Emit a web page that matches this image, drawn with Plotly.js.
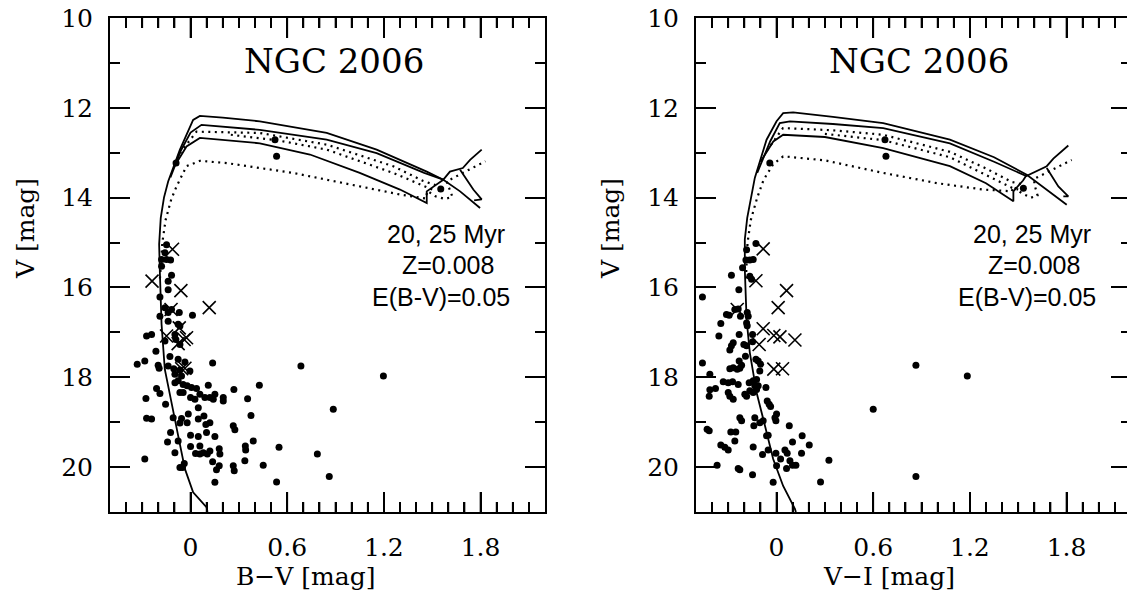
<!DOCTYPE html>
<html>
<head>
<meta charset="utf-8">
<script src="https://cdn.plot.ly/plotly-3.0.1.min.js"></script>
<style>
html,body{margin:0;padding:0;overflow:hidden;background:#fff;}
#chart{width:1132px;height:598px;}
</style>
</head>
<body>
<div id="chart"></div>
<script>
// ---------------- DATA: left panel (B-V) ----------------
const bvDotsX = [-0.149,-0.159,-0.180,-0.149,-0.124,-0.180,-0.118,-0.139,-0.139,-0.190,-0.159,-0.118,-0.139,-0.190,-0.070,0.012,-0.139,-0.077,-0.066,-0.273,-0.242,-0.097,-0.091,-0.066,-0.159,-0.215,-0.128,-0.331,-0.284,-0.201,-0.195,-0.139,-0.077,-0.035,-0.104,-0.066,-0.004,-0.097,-0.056,-0.077,0.137,0.685,1.197,-0.097,-0.046,-0.021,0.006,0.037,-0.046,-0.066,-0.211,-0.190,-0.277,0.000,0.027,0.058,0.089,0.120,0.151,0.141,0.203,0.203,0.110,0.269,0.427,0.354,0.048,-0.155,-0.273,-0.242,-0.108,-0.056,-0.066,-0.014,-0.021,0.048,0.083,0.095,0.120,0.265,0.275,0.375,0.886,-0.124,-0.143,-0.077,0.000,0.048,0.099,0.151,0.000,0.058,0.031,0.058,0.079,0.104,0.120,0.178,0.182,-0.097,0.340,0.342,0.389,0.549,0.787,-0.284,-0.066,-0.050,-0.039,0.137,0.178,0.161,0.265,0.271,0.337,0.451,0.151,0.534,0.861,0.524,0.534,-0.090,1.553];
const bvDotsV = [15.05,15.23,15.38,15.38,15.39,15.53,15.73,15.86,16.05,16.21,16.45,16.49,16.56,16.64,16.56,16.62,16.75,16.82,16.86,17.08,17.05,17.05,17.16,17.27,17.19,17.42,17.54,17.71,17.64,17.73,17.80,17.75,17.60,17.66,17.81,17.84,17.86,17.93,17.97,18.08,17.68,17.75,17.97,18.12,18.16,18.19,18.23,18.25,18.34,18.34,18.25,18.36,18.47,18.45,18.49,18.38,18.45,18.45,18.38,18.49,18.45,18.53,18.18,18.27,18.18,18.48,18.68,18.60,18.91,18.93,18.90,18.92,19.02,18.82,19.01,18.93,18.86,19.05,19.01,19.08,19.17,18.85,18.71,19.23,19.44,19.42,19.29,19.32,19.23,19.32,19.54,19.53,19.70,19.71,19.68,19.71,19.64,19.59,19.71,19.68,19.53,19.62,19.42,19.56,19.71,19.82,20.01,20.01,19.92,19.88,19.97,20.06,19.97,20.08,19.86,19.96,20.34,20.33,20.21,12.71,13.08,13.23,13.81];
const bvCrossX = [-0.112,-0.239,-0.060,0.116,-0.121,-0.070,-0.149,-0.025,-0.077,-0.040,-0.055,-0.035];
const bvCrossV = [15.15,15.86,16.07,16.45,16.49,16.90,17.08,17.12,17.25,17.16,17.81,17.80];

const bvIsoMsX = [0.105,0.100,0.016,-0.035,-0.077,-0.108,-0.139,-0.160,-0.180,-0.190,-0.195,-0.185,-0.165,-0.139,-0.066,0.016,0.058,0.200,0.430,0.845,1.155,1.466,1.569,1.673,1.797];
const bvIsoMsV = [21.0,20.90,20.56,20.04,19.30,18.78,18.19,17.82,16.82,15.71,15.04,14.45,14.00,13.64,12.93,12.27,12.18,12.22,12.30,12.56,12.93,13.42,13.60,13.86,14.23];
const bvIsoS2X = [-0.125,-0.060,0.000,0.068,0.430,0.845,1.155,1.450,1.569,1.610,1.690,1.735,1.807];
const bvIsoS2V = [13.55,12.95,12.55,12.38,12.49,12.71,13.01,13.45,13.60,13.42,13.34,13.16,12.93];
const bvIsoS3X = [-0.100,-0.025,0.058,0.430,0.741,1.050,1.300,1.466,1.466,1.538,1.569];
const bvIsoS3V = [13.30,12.86,12.67,12.79,13.04,13.45,13.82,14.12,13.86,13.67,13.60];
const bvIsoHookX = [1.673,1.755,1.807,1.760];
const bvIsoHookV = [13.38,13.82,14.04,14.06];
const bvIsoD1X = [-0.066,0.037,0.430,0.845,1.258,1.445,1.520];
const bvIsoD1V = [13.01,12.53,12.56,12.82,13.30,13.63,13.72];
const bvIsoD2X = [0.250,0.550,0.845,1.258,1.455,1.500];
const bvIsoD2V = [12.60,12.73,12.93,13.45,13.75,13.82];
const bvIsoD3X = [-0.190,-0.175,-0.155,-0.120,-0.087,-0.025,0.058,0.224,0.637,1.050,1.300,1.460,1.470,1.520,1.580,1.625,1.600,1.590,1.700,1.830];
const bvIsoD3V = [15.80,15.00,14.50,14.04,13.75,13.30,13.18,13.23,13.45,13.75,13.93,14.02,13.85,13.97,14.03,13.98,13.75,13.64,13.43,13.19];

// ---------------- DATA: right panel (V-I) ----------------
const viDotsX = [-0.128,-0.186,-0.190,-0.166,-0.145,-0.211,-0.280,-0.166,-0.155,-0.460,-0.234,-0.259,-0.238,-0.311,-0.294,-0.224,-0.182,-0.176,-0.186,-0.182,-0.346,-0.358,-0.232,-0.149,-0.269,-0.280,-0.203,-0.186,-0.290,-0.149,-0.193,-0.128,-0.114,-0.099,-0.460,-0.232,-0.217,-0.244,-0.228,-0.290,-0.269,-0.104,-0.414,-0.331,-0.300,-0.273,-0.238,-0.170,-0.145,-0.124,-0.414,-0.418,-0.379,-0.300,-0.290,-0.269,-0.197,-0.186,-0.166,-0.145,-0.124,-0.135,-0.114,-0.066,-0.058,-0.046,-0.037,-0.431,-0.418,-0.228,-0.217,-0.135,-0.104,-0.083,-0.141,-0.010,0.000,-0.004,0.079,-0.284,-0.253,-0.259,-0.062,-0.052,-0.346,-0.321,-0.300,-0.145,-0.087,-0.052,-0.004,0.025,0.052,0.066,0.083,0.099,0.120,0.062,0.099,0.159,0.203,0.155,0.000,0.325,-0.369,-0.238,-0.228,-0.149,-0.021,0.273,0.865,1.184,0.600,0.865,0.673,0.679,-0.042,1.532];
const viDotsV = [15.02,15.16,15.39,15.39,15.38,15.56,15.73,15.75,15.82,16.21,16.05,16.49,16.48,16.60,16.62,16.64,16.56,16.64,16.79,16.85,16.80,17.08,17.05,17.05,17.23,17.30,17.27,17.30,17.39,17.21,17.53,17.60,17.64,17.71,17.68,17.64,17.73,17.82,17.80,17.81,17.79,17.86,17.93,18.10,18.12,18.10,18.16,18.12,18.08,18.05,18.28,18.42,18.25,18.34,18.42,18.49,18.38,18.42,18.30,18.34,18.27,18.19,18.19,18.23,18.53,18.60,18.65,19.16,19.19,18.90,18.97,18.90,19.01,18.97,19.08,18.90,18.82,18.97,19.08,19.22,19.22,19.42,19.30,19.29,19.51,19.56,19.62,19.55,19.72,19.62,19.69,19.82,19.62,19.69,19.86,19.96,19.96,20.03,19.44,19.30,19.51,19.69,19.97,19.85,19.96,20.03,20.06,20.17,20.34,20.33,17.73,17.97,18.71,20.21,12.71,13.08,13.23,13.79];
const viCrossX = [-0.083,-0.128,0.062,0.010,-0.244,-0.083,-0.017,0.021,0.114,-0.108,-0.017,0.037];
const viCrossV = [15.14,15.85,16.07,16.45,16.49,16.92,17.07,17.10,17.17,17.27,17.82,17.81];

const viIsoMsX = [0.120,0.114,0.041,-0.021,-0.072,-0.124,-0.166,-0.186,-0.197,-0.197,-0.182,-0.160,-0.135,-0.062,0.000,0.041,0.103,0.350,0.662,1.076,1.350,1.553,1.801];
const viIsoMsV = [21.0,20.93,20.42,19.82,19.08,18.34,17.45,16.71,15.60,14.93,14.45,14.00,13.56,12.71,12.30,12.12,12.10,12.20,12.34,12.71,13.10,13.49,14.16];
const viIsoS2X = [-0.120,-0.040,0.020,0.083,0.350,0.662,1.076,1.350,1.550,1.604,1.677,1.718,1.811];
const viIsoS2V = [13.45,12.75,12.34,12.30,12.36,12.45,12.79,13.20,13.52,13.42,13.30,13.13,12.84];
const viIsoS3X = [-0.100,-0.020,0.041,0.300,0.662,1.076,1.300,1.470,1.470,1.530,1.553];
const viIsoS3V = [13.20,12.75,12.60,12.65,12.90,13.30,13.68,14.08,13.86,13.62,13.49];
const viIsoHookX = [1.677,1.749,1.811,1.780];
const viIsoHookV = [13.34,13.75,13.97,13.97];
const viIsoD1X = [-0.060,0.040,0.350,0.662,1.076,1.300,1.460,1.520];
const viIsoD1V = [12.95,12.45,12.50,12.60,12.98,13.35,13.65,13.70];
const viIsoD2X = [0.300,0.662,1.076,1.300,1.460,1.500];
const viIsoD2V = [12.58,12.72,13.10,13.50,13.78,13.82];
const viIsoD3X = [-0.190,-0.180,-0.160,-0.120,-0.080,-0.020,0.041,0.300,0.662,1.000,1.283,1.460,1.470,1.520,1.580,1.620,1.600,1.600,1.700,1.832];
const viIsoD3V = [15.80,15.00,14.50,14.00,13.60,13.25,13.08,13.17,13.45,13.68,13.82,13.86,13.75,13.90,14.00,13.95,13.70,13.58,13.40,13.16];

// ---------------- AXES / TEXT ----------------
const colorRange = [-0.5, 2.2];
const magRange = [21, 10];
const colorMajorStep = 0.6, colorMinorStep = 0.1;
const clusterName = 'NGC 2006';
const modelLines = ['20, 25 Myr', 'Z=0.008', 'E(B-V)=0.05'];
const xTitles = ['B\u2212V [mag]', 'V\u2212I [mag]'];
const yTitle = 'V [mag]';

// ---------------- FIGURE ----------------
const W = 1132, H = 598;
const px = x => x / W;
const py = y => 1 - y / H;
const serif = 'DejaVu Serif, serif';
const sans = 'Liberation Sans, Arial, sans-serif';

function lineTrace(x, y, ax, dotted) {
  return {x: x, y: y, xaxis: ax[0], yaxis: ax[1], mode: 'lines', hoverinfo: 'skip',
    line: {color: 'black', width: dotted ? 2.2 : 1.8, dash: dotted ? '2px,4.5px' : 'solid'}};
}
function dotTrace(x, y, ax) {
  return {x: x, y: y, xaxis: ax[0], yaxis: ax[1], mode: 'markers', marker: {size: 7, color: 'black'}};
}
function crossTrace(x, y, ax) {
  return {x: x, y: y, xaxis: ax[0], yaxis: ax[1], mode: 'markers',
    marker: {symbol: 'x-thin-open', size: 13, color: 'black', line: {width: 1.6, color: 'black'}}};
}
// frame tick marks of the colour axis (top and bottom), as one line trace per panel
const magPerPx = (magRange[0] - magRange[1]) / (512 - 18);
function colorTickTrace(ax) {
  const xs = [], ys = [];
  const kMin = Math.ceil(colorRange[0] / colorMinorStep + 1e-6), kMax = Math.floor(colorRange[1] / colorMinorStep - 1e-6);
  for (let k = kMin; k <= kMax; k++) {
    const v = k * colorMinorStep;
    const len = (k % Math.round(colorMajorStep / colorMinorStep) === 0 ? 20 : 10) * magPerPx;
    xs.push(v, v, null, v, v, null);
    ys.push(magRange[0], magRange[0] - len, null, magRange[1], magRange[1] + len, null);
  }
  return {x: xs, y: ys, xaxis: ax[0], yaxis: ax[1], mode: 'lines', hoverinfo: 'skip', connectgaps: false,
    line: {color: 'black', width: 1.8}};
}
const A1 = ['x', 'y'], A2 = ['x2', 'y2'];
const traces = [
  colorTickTrace(A1), colorTickTrace(A2),
  lineTrace(bvIsoMsX, bvIsoMsV, A1), lineTrace(bvIsoS2X, bvIsoS2V, A1), lineTrace(bvIsoS3X, bvIsoS3V, A1),
  lineTrace(bvIsoHookX, bvIsoHookV, A1),
  lineTrace(bvIsoD1X, bvIsoD1V, A1, true), lineTrace(bvIsoD2X, bvIsoD2V, A1, true), lineTrace(bvIsoD3X, bvIsoD3V, A1, true),
  dotTrace(bvDotsX, bvDotsV, A1), crossTrace(bvCrossX, bvCrossV, A1),
  lineTrace(viIsoMsX, viIsoMsV, A2), lineTrace(viIsoS2X, viIsoS2V, A2), lineTrace(viIsoS3X, viIsoS3V, A2),
  lineTrace(viIsoHookX, viIsoHookV, A2),
  lineTrace(viIsoD1X, viIsoD1V, A2, true), lineTrace(viIsoD2X, viIsoD2V, A2, true), lineTrace(viIsoD3X, viIsoD3V, A2, true),
  dotTrace(viDotsX, viDotsV, A2), crossTrace(viCrossX, viCrossV, A2)
];
function xAxis(domain, anchor) {
  return {domain: domain, anchor: anchor, range: colorRange, tick0: 0, dtick: colorMajorStep,
    ticks: 'inside', ticklen: 20, tickwidth: 1.6, tickcolor: 'black',
    showline: true, linewidth: 2, linecolor: 'black', mirror: 'ticks',
    showgrid: false, zeroline: false, ticklabelstandoff: 12,
    minor: {dtick: colorMinorStep, ticks: 'inside', ticklen: 10, tickwidth: 1.6, tickcolor: 'black', showgrid: false},
    tickfont: {family: serif, size: 25, color: 'black'}};
}
function yAxis(anchor) {
  return {domain: [1 - 512 / H, 1 - 18 / H], anchor: anchor, range: magRange, tick0: 10, dtick: 2,
    ticks: 'inside', ticklen: 20, tickwidth: 1.6, tickcolor: 'black',
    showline: true, linewidth: 2, linecolor: 'black', mirror: 'ticks',
    showgrid: false, zeroline: false, ticklabelstandoff: 10,
    minor: {dtick: 1, ticks: 'inside', ticklen: 10, tickwidth: 1.6, tickcolor: 'black', showgrid: false},
    tickfont: {family: serif, size: 25, color: 'black'}};
}
function ann(text, x, y, font, extra) {
  return Object.assign({text: text, xref: 'paper', yref: 'paper', x: px(x), y: py(y),
    xanchor: 'center', yanchor: 'middle', showarrow: false, font: font}, extra || {});
}
const titleFont = {family: serif, size: 34, color: 'black'};
const axFont = {family: serif, size: 25, color: 'black'};
const txtFont = {family: sans, size: 25, color: 'black'};
const annotations = [
  ann(clusterName, 334, 61, titleFont), ann(clusterName, 919, 61, titleFont),
  ann(modelLines[0], 446, 234, txtFont), ann(modelLines[1], 448, 265, txtFont), ann(modelLines[2], 441, 297, txtFont),
  ann(modelLines[0], 1032, 234, txtFont), ann(modelLines[1], 1034, 265, txtFont), ann(modelLines[2], 1027, 297, txtFont),
  ann(xTitles[0], 305, 576, axFont), ann(xTitles[1], 889, 576, axFont),
  ann(yTitle, 25, 229, axFont, {textangle: -90}), ann(yTitle, 610, 229, axFont, {textangle: -90})
];
const layout = {
  width: W, height: H, margin: {l: 0, r: 0, t: 0, b: 0},
  paper_bgcolor: 'white', plot_bgcolor: 'white', showlegend: false,
  xaxis: xAxis([px(110), px(545)], 'y'), yaxis: yAxis('x'),
  xaxis2: xAxis([px(696), px(1131)], 'y2'), yaxis2: yAxis('x2'),
  annotations: annotations
};
Plotly.newPlot('chart', traces, layout, {displayModeBar: false});
</script>
</body>
</html>
